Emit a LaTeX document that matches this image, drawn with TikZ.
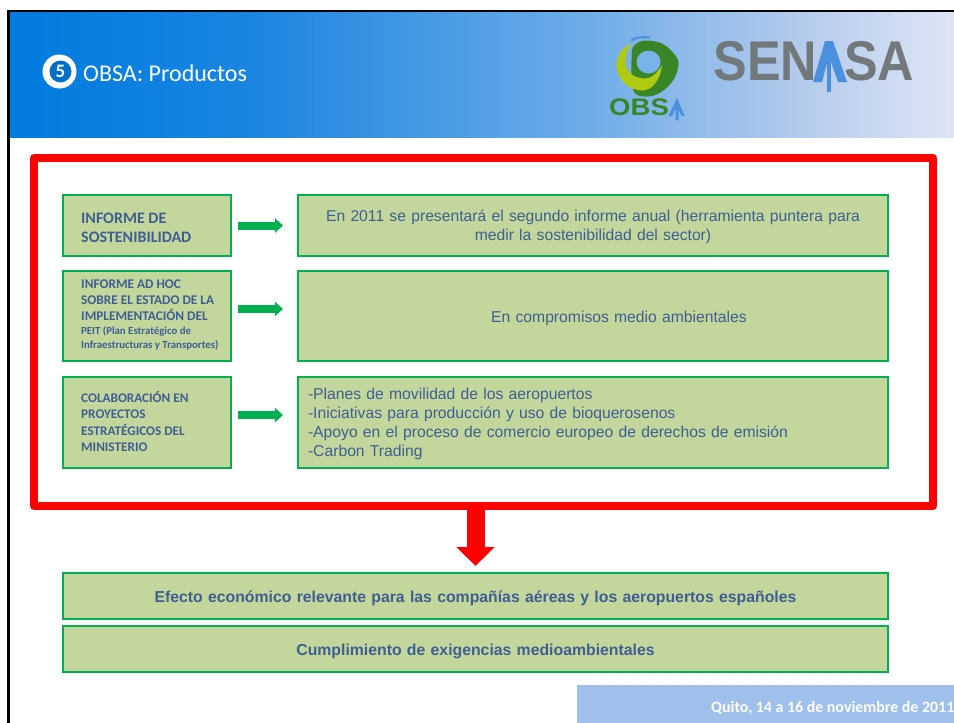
\documentclass[tikz,border=0pt]{standalone}
\usepackage{fontspec}
\setmainfont{Liberation Sans}
\newfontfamily\calib{Carlito}
\usetikzlibrary{arrows.meta,shapes.geometric}
\definecolor{boxfill}{HTML}{C3D69B}
\definecolor{boxline}{HTML}{00B050}
\definecolor{txtblue}{HTML}{3F5F93}
\definecolor{redline}{HTML}{FF0000}
\definecolor{hA}{HTML}{007BDF}
\definecolor{hB}{HTML}{1A85E0}
\definecolor{hC}{HTML}{6FADE8}
\definecolor{hD}{HTML}{B4CBEC}
\definecolor{hE}{HTML}{DEE5F5}
\definecolor{senagray}{HTML}{72797C}
\definecolor{senablue}{HTML}{4A90DC}
\definecolor{obsadark}{HTML}{3A8526}
\definecolor{obsayel}{HTML}{AFCB10}
\definecolor{footfill}{HTML}{9FC0EA}
\newcommand\dn[1]{\rule{0pt}{#1pt}}
\tikzset{
  box/.style={draw=boxline,fill=boxfill,line width=2.8pt,outer sep=0pt,inner ysep=0pt,text=txtblue},
  leftbox/.style={box,minimum width=168pt,inner sep=0pt,anchor=north west},
  lefttext/.style={anchor=west,inner sep=0pt,align=left,text=txtblue},
  rightbox/.style={box,minimum width=590pt,text width=570pt,inner xsep=10pt,anchor=north west,font=\fontsize{15.7}{19}\selectfont},
  widebox/.style={box,minimum width=825pt,text width=805pt,inner xsep=10pt,align=center,anchor=north west,font=\bfseries\fontsize{15.8}{18}\selectfont},
  flow/.style={draw=boxline,line width=8pt,-{Triangle[length=8pt,width=14pt]},shorten <=7pt,shorten >=15pt},
  bigflow/.style={draw=redline,line width=18pt,-{Triangle[length=19pt,width=37pt]},shorten >=7pt},
}
\begin{document}
\begin{tikzpicture}[x=1pt,y=-1pt]
\useasboundingbox (0,0) rectangle (954,723);
% header
\fill[left color=hA,right color=hB] (10,12) rectangle (250,137);
\fill[left color=hB,right color=hC] (250,12) rectangle (590,137);
\fill[left color=hC,right color=hD] (590,12) rectangle (800,137);
\fill[left color=hD,right color=hE] (800,12) rectangle (954,137);
\draw[black,line width=2.6pt] (8.7,723) -- (8.7,10.8) -- (954,10.8);
% number icon
\fill[white] (59.5,71.5) circle[radius=17];
\fill[hA!90!black] (60.5,71.5) circle[radius=11];
\node[text=white,font=\calib\bfseries\fontsize{19}{19}\selectfont] (num) at (60.5,71.5) {5};
\node[anchor=west,text=white,inner sep=0pt,font=\calib\fontsize{24}{24}\selectfont] (title) at (83,73) {OBSA: Productos};
% OBSA logo
\fill[obsadark] plot[smooth cycle,tension=.6] coordinates {(631.7,55) (633.3,46.7) (643.3,40.7) (661.7,43.3) (675,55) (678.5,65) (673.3,80) (661.7,91.7) (648.3,96.5) (635,93.3) (631.7,76.7)};
\fill[hC!85!hD] (648.5,62) ellipse[x radius=12,y radius=11.5];
\fill[obsayel] (631.7,43.3) .. controls (620,49) and (616.5,57) .. (616.7,66) .. controls (617,80) and (630,91) .. (643,90.5) .. controls (653,90) and (661,78) .. (662,65) .. controls (658,72) and (652,78.5) .. (645,78.5) .. controls (634,78.5) and (626,72) .. (625.5,63.3) .. controls (625.3,55) and (628,48) .. (631.7,43.3) -- cycle;
\draw[senablue,line width=2pt] (631,40.5) .. controls (637,36.5) and (644,37) .. (650,37.5);
\node[text=obsadark,inner sep=0pt,xscale=1.15,font=\bfseries\fontsize{24}{24}\selectfont] (obsa) at (639,107.5) {OBS};
\fill[senablue] (677,98) -- (684.5,116) -- (681.5,116) -- (678.5,109) -- (678.5,120) -- (675.5,120) -- (675.5,109) -- (672,116) -- (668.5,116) -- cycle;
% SENASA logo
\node[text=senagray,inner sep=0pt,xscale=.9,anchor=west,font=\bfseries\fontsize{56}{56}\selectfont] (sen) at (713.5,61.5) {SEN};
\node[text=senagray,inner sep=0pt,xscale=.9,anchor=east,font=\bfseries\fontsize{56}{56}\selectfont] (sa) at (914.5,61.5) {SA};
\fill[senablue] (825,41) -- (833,41) -- (847,82) -- (838,82) -- (829,56) -- (822,82) -- (813,82) -- cycle;
\fill[senablue] (827,52) rectangle (831,92);
% red frame
\node[draw=redline,line width=8pt,line join=round,minimum width=899pt,minimum height=348pt,outer sep=0pt,inner sep=0pt,anchor=north west] (frame) at (34,158) {};
\path (frame.south) ++(0,4) coordinate (frameout);
% boxes
\node[leftbox,minimum height=61pt] (l1) at (63,195) {};
\node[lefttext,font=\calib\bfseries\fontsize{16}{16}\selectfont] (l1t) at (81,227.5) {INFORME DE\\[3pt]SOSTENIBILIDAD};
\node[leftbox,minimum height=90pt] (l2) at (63,271) {};
\node[lefttext,font=\calib\bfseries\fontsize{13.3}{16}\selectfont] (l2t) at (81,315) {INFORME AD HOC\\SOBRE EL ESTADO DE LA\\IMPLEMENTACIÓN DEL\\[-2pt]{\fontsize{10.8}{14}\selectfont PEIT (Plan Estratégico de}\\[-2pt]{\fontsize{10.8}{14}\selectfont Infraestructuras y Transportes)}};
\node[leftbox,minimum height=91pt] (l3) at (63,377) {};
\node[lefttext,font=\calib\bfseries\fontsize{13.2}{16.3}\selectfont] (l3t) at (81,421.5) {COLABORACIÓN EN\\PROYECTOS\\ESTRATÉGICOS DEL\\MINISTERIO};
\node[rightbox,minimum height=61pt,align=center] (r1) at (298,195) {\dn{14}En 2011 se presentará el segundo informe anual (herramienta puntera para\\medir la sostenibilidad del sector)};
\node[rightbox,minimum height=90pt,align=center] (r2) at (298,271) {\dn{17}\hspace*{52pt}En compromisos medio ambientales};
\node[rightbox,minimum height=91pt,align=left] (r3) at (298,377) {\dn{14}-Planes de movilidad de los aeropuertos\\-Iniciativas para producción y uso de bioquerosenos\\-Apoyo en el proceso de comercio europeo de derechos de emisión\\-Carbon Trading};
\node[widebox,minimum height=46pt] (eff) at (63,573) {\dn{17}Efecto económico relevante para las compañías aéreas y los aeropuertos españoles};
\node[widebox,minimum height=46pt] (cum) at (63,626) {\dn{17}Cumplimiento de exigencias medioambientales};
% connectors
\draw[flow] (l1) -- (r1);
\draw[flow] ([yshift=7pt]l2.east) -- ([yshift=7pt]r2.west);
\draw[flow] ([yshift=7.5pt]l3.east) -- ([yshift=7.5pt]r3.west);
\draw[bigflow] (eff.north |- frameout) -- (eff.north);
% footer
\fill[footfill] (577,685) rectangle (954,723);
\begin{scope}
\clip (577,685) rectangle (954,723);
\node[anchor=west,text=white,inner sep=0pt,font=\calib\bfseries\fontsize{15.9}{16}\selectfont] (foot) at (711,708) {Quito, 14 a 16 de noviembre de 2011};
\end{scope}
\end{tikzpicture}
\end{document}
